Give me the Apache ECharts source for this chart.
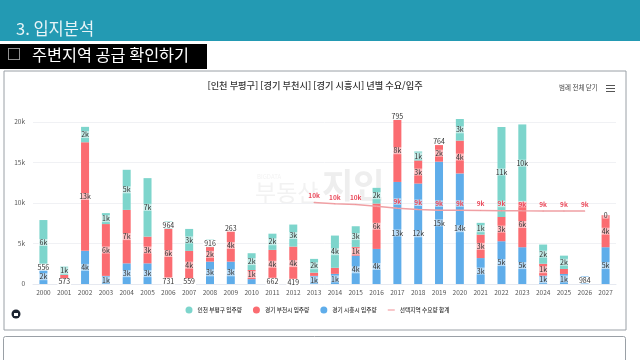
<!DOCTYPE html>
<html lang="ko" style="height: 100%">
<head>
<meta charset="utf-8">
<title>입지분석</title>
</head>
<body style="height: 100%; margin: 0; background: #fff">
<div id="container" style="width: 640px; height: 360px; filter: blur(0.35px)"></div>
<script type="text/javascript" src="https://cdn.jsdelivr.net/npm/echarts/dist/echarts.min.js"></script>
<script type="text/javascript">
var years = ['2000','2001','2002','2003','2004','2005','2006','2007','2008','2009','2010','2011','2012','2013','2014','2015','2016','2017','2018','2019','2020','2021','2022','2023','2024','2025','2026','2027'];

// in households
var siheung = [1800,573,4100,1000,2550,2550,731,559,2760,2760,600,662,419,1000,1250,3500,4330,12600,12400,15100,13650,3200,5280,4540,1030,1240,984,4540];
var bucheon = [556,550,13400,6400,6600,3300,6070,3530,1800,4000,1130,3550,4200,400,750,1080,5600,7700,2850,2100,4050,2900,3000,5600,1470,620,0,3960];
var bupyeong = [5540,1020,1900,1350,4950,7220,964,2710,916,263,2070,2000,2720,1700,3980,2550,1940,795,1110,764,2670,1450,11100,9560,2370,1640,0,0];
var demand = [null,null,null,null,null,null,null,null,null,null,null,null,null,10050,9900,9800,9600,9350,9200,9100,9100,9080,9050,9030,9020,9010,9000,null];

// segments printed without a label in the original
var noLabelSiheung = ['2010'];
var noLabelBucheon = ['2001','2013','2014','2025','2026'];
var noLabelBupyeong = ['2026'];
var noLabelDemand = ['2016'];

var dom = document.getElementById('container');
var myChart = echarts.init(dom);

function shortNum(v) {
  if (v >= 1000) return Math.round(v / 1000) + 'k';
  return String(v);
}

function barSeries(name, values, color, noLabel) {
  return {
    name: name,
    type: 'bar',
    stack: 'supply',
    barWidth: 8,
    itemStyle: {color: color},
    label: {
      show: true,
      position: 'inside',
      fontSize: 7,
      color: '#333',
      backgroundColor: 'rgba(255,255,255,0.55)',
      padding: [0, 1],
      formatter: function (p) { return shortNum(p.value); }
    },
    data: values.map(function (v, i) {
      if (noLabel.indexOf(years[i]) !== -1) return {value: v, label: {show: false}};
      // thin segments: the label box hides the sliver behind it
      if (v > 0 && v < 1000) return {value: v, label: {backgroundColor: '#fff'}};
      return v;
    })
  };
}

var font = '"Noto Sans CJK KR", "Noto Sans", sans-serif';

var option = {
  animation: false,
  textStyle: {fontFamily: font},
  title: {
    text: '[인천 부평구] [경기 부천시] [경기 시흥시] 년별 수요/입주',
    left: 310,
    top: 76,
    textAlign: 'center',
    textStyle: {fontSize: 9.2, fontWeight: 500, color: '#333', fontFamily: font}
  },
  legend: {
    top: 306.5,
    left: 185.5,
    padding: 0,
    itemWidth: 7,
    itemHeight: 7,
    itemGap: 11,
    textStyle: {fontSize: 5.7, fontWeight: 500, color: '#333'},
    data: [
      {name: '인천 부평구 입주량', icon: 'circle'},
      {name: '경기 부천시 입주량', icon: 'circle'},
      {name: '경기 시흥시 입주량', icon: 'circle'},
      {name: '선택지역 수요량 합계', icon: 'path://M0 3h7v1H0z'}
    ]
  },
  // 25k sits above the frame title on purpose: tall bars run past the 20k line
  grid: {left: 33, right: 24, top: 81.5, height: 202.5},
  xAxis: {
    type: 'category',
    data: years,
    axisTick: {show: false},
    axisLine: {lineStyle: {color: '#e6e9f0'}},
    axisLabel: {fontSize: 6.5, color: '#555', interval: 0, margin: 5}
  },
  yAxis: {
    type: 'value',
    min: 0,
    max: 25000,
    interval: 5000,
    axisLine: {show: false},
    axisTick: {show: false},
    axisLabel: {
      fontSize: 6.5,
      color: '#555',
      margin: 8,
      showMaxLabel: false,
      formatter: function (v) { return v === 0 ? '0' : v / 1000 + 'k'; }
    },
    splitLine: {showMaxLine: false, lineStyle: {color: '#f0f1f4'}}
  },
  series: [
    barSeries('경기 시흥시 입주량', siheung, '#5fadea', noLabelSiheung),
    barSeries('경기 부천시 입주량', bucheon, '#fb6c71', noLabelBucheon),
    barSeries('인천 부평구 입주량', bupyeong, '#7dd5cc', noLabelBupyeong),
    {
      name: '선택지역 수요량 합계',
      type: 'line',
      data: demand.map(function (v, i) {
        if (noLabelDemand.indexOf(years[i]) !== -1) return {value: v, label: {show: false}};
        return v;
      }),
      symbol: 'circle',
      symbolSize: 1,
      showAllSymbol: true,
      itemStyle: {color: '#f08f94'},
      lineStyle: {color: '#f0a0a4', width: 1.5},
      z: 5,
      label: {
        show: true,
        position: 'top',
        distance: 3,
        fontSize: 6.5,
        fontWeight: 'bold',
        color: '#ea4b5c',
        backgroundColor: 'rgba(255,255,255,0.55)',
        formatter: function (p) { return shortNum(p.value); }
      }
    }
  ],
  graphic: [
    // page furniture around the chart
    {type: 'rect', shape: {x: 0, y: 0, width: 640, height: 41}, style: {fill: '#239ab3'}},
    {type: 'text', x: 16, y: 20, style: {text: '3. 입지분석', fill: '#e8f4f7', fontSize: 16.5, fontFamily: font}},
    {type: 'rect', shape: {x: 0, y: 44, width: 207, height: 25}, style: {fill: '#000'}},
    {type: 'text', x: 7, y: 47, style: {text: '□', fill: '#fff', fontSize: 14, fontFamily: font}},
    {type: 'text', x: 32, y: 47, style: {text: '주변지역 공급 확인하기', fill: '#fff', fontSize: 16.3, fontFamily: font}},
    {type: 'rect', z: -1, shape: {x: 4, y: 71, width: 622, height: 259}, style: {fill: '#fff', stroke: '#9aa0a6', lineWidth: 1}},
    {type: 'rect', z: -1, shape: {x: 3.5, y: 336.5, width: 622, height: 40, r: 2}, style: {fill: '#fff', stroke: '#9aa0a6', lineWidth: 1}},
    // watermark
    {type: 'text', x: 257, y: 174, style: {text: 'BIGDATA', fill: '#f3f3f3', fontSize: 6, fontFamily: font}},
    {type: 'text', x: 255, y: 181, style: {text: '부동산', fill: '#f2f2f2', fontSize: 23, fontFamily: font}},
    {type: 'text', x: 322, y: 168, style: {text: '지인', fill: '#eeeeee', fontSize: 34, fontWeight: 'bold', fontFamily: font}},
    // toolbar at the top right
    {type: 'text', x: 559, y: 84, style: {text: '범례 전체 닫기', fill: '#444', fontSize: 6.5, fontFamily: font}},
    {type: 'rect', shape: {x: 606, y: 85, width: 9, height: 1}, style: {fill: '#555'}},
    {type: 'rect', shape: {x: 606, y: 88, width: 9, height: 1}, style: {fill: '#555'}},
    {type: 'rect', shape: {x: 606, y: 91, width: 9, height: 1}, style: {fill: '#555'}},
    // small logo
    {type: 'circle', shape: {cx: 16, cy: 314, r: 4.5}, style: {fill: '#1c2430'}},
    {type: 'rect', shape: {x: 14, y: 313, width: 4, height: 3}, style: {fill: '#fff'}}
  ]
};

myChart.setOption(option);
window.addEventListener('resize', myChart.resize);
</script>
</body>
</html>
